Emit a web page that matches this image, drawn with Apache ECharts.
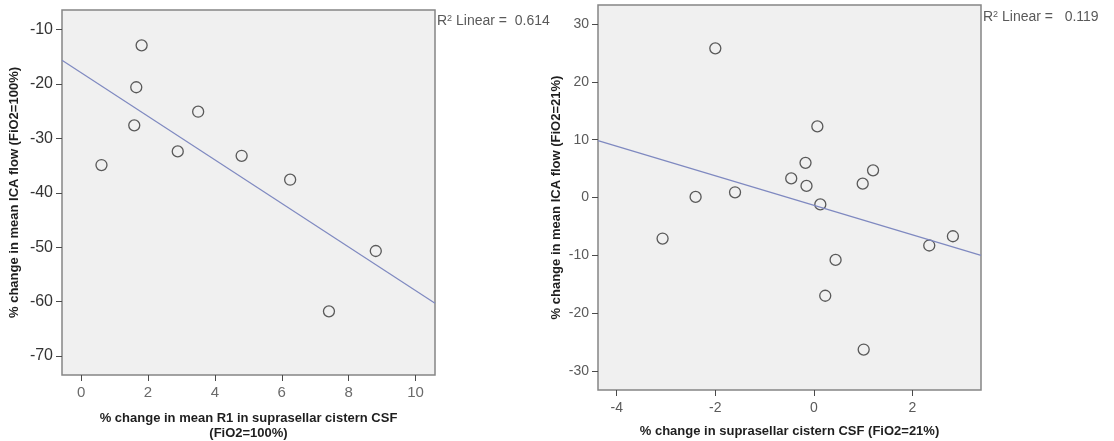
<!DOCTYPE html>
<html>
<head>
<meta charset="utf-8">
<script src="https://cdn.jsdelivr.net/npm/echarts@6/dist/echarts.min.js"></script>
<style>
  html, body { margin: 0; padding: 0; background: #ffffff; }
  #chart { width: 1114px; height: 441px; }
</style>
</head>
<body>
<div id="chart"></div>
<script>
// Panel A: breathing 100% oxygen
const hyperoxiaR1Change  = [0.61, 1.81, 1.65, 1.59, 3.50, 2.89, 4.80, 6.25, 8.81, 7.41];
const hyperoxiaIcaChange = [-34.9, -12.9, -20.6, -27.6, -25.1, -32.4, -33.2, -37.6, -50.7, -61.8];
const hyperoxiaXTicks = [0, 2, 4, 6, 8, 10];
const hyperoxiaYTicks = [-70, -60, -50, -40, -30, -20, -10];
const hyperoxiaRSquared = '0.614';

// Panel B: breathing room air (21% oxygen)
const normoxiaCsfChange = [-2.00, 0.07, -0.17, -0.46, -0.15, 1.20, 0.99, -2.40, -1.60, 0.13, -3.07, 2.34, 2.82, 0.44, 0.23, 1.01];
const normoxiaIcaChange = [25.8, 12.3, 6.0, 3.3, 2.0, 4.7, 2.4, 0.1, 0.9, -1.2, -7.1, -8.3, -6.7, -10.8, -17.0, -26.3];
const normoxiaXTicks = [-4, -2, 0, 2];
const normoxiaYTicks = [-30, -20, -10, 0, 10, 20, 30];
const normoxiaRSquared = '0.119';

const FONT = 'Arial, "Liberation Sans", sans-serif';

// Axis extents (slightly padded beyond the outer ticks)
const hyperX = { min: -0.57, max: 10.58 };
const hyperY = { min: -73.5, max: -6.4 };
const normX  = { min: -4.38, max: 3.39 };
const normY  = { min: -33.3, max: 33.3 };

// Ordinary least-squares fit, evaluated at both ends of the x-extent
function fitLine(xs, ys, x0, x1) {
  const n = xs.length;
  const mx = xs.reduce((a, b) => a + b, 0) / n;
  const my = ys.reduce((a, b) => a + b, 0) / n;
  let sxy = 0, sxx = 0;
  for (let i = 0; i < n; i++) {
    sxy += (xs[i] - mx) * (ys[i] - my);
    sxx += (xs[i] - mx) * (xs[i] - mx);
  }
  const b = sxy / sxx;
  const a = my - b * mx;
  return [[x0, a + b * x0], [x1, a + b * x1]];
}

function pairs(xs, ys) { return xs.map((x, i) => [x, ys[i]]); }

function valueAxis(gridIndex, ext, ticks, name, cfg) {
  return {
    type: 'value',
    gridIndex: gridIndex,
    min: ext.min,
    max: ext.max,
    name: name,
    nameLocation: 'middle',
    nameGap: cfg.nameGap,
    nameRotate: cfg.nameRotate,
    nameTextStyle: {
      fontFamily: FONT, fontSize: 13, fontWeight: 'bold', color: '#1e1e1e',
      lineHeight: 15, align: 'center'
    },
    axisLine: { show: false, onZero: false },
    splitLine: { show: false },
    axisTick: {
      show: true, length: 6, inside: false, customValues: ticks,
      lineStyle: { color: '#4a4a4a', width: 1 }
    },
    axisLabel: {
      show: true, customValues: ticks, margin: cfg.labelMargin,
      fontFamily: FONT, fontSize: cfg.labelSize, color: cfg.labelColor,
      fontWeight: cfg.labelWeight || 'normal'
    }
  };
}

const chart = echarts.init(document.getElementById('chart'), null, { renderer: 'canvas' });

const gridStyle = {
  show: true,
  backgroundColor: '#f0f0f0',
  borderColor: '#858585',
  borderWidth: 1.5,
  containLabel: false,
  outerBoundsMode: 'none'
};

const markerStyle = {
  color: 'rgba(0,0,0,0)',
  borderColor: '#333333',
  borderWidth: 1.3
};

const fitStyle = { color: '#7f89c0', width: 1.2 };

chart.setOption({
  animation: false,
  backgroundColor: '#ffffff',
  grid: [
    Object.assign({ left: 62, top: 10, width: 373, height: 365 }, gridStyle),
    Object.assign({ left: 598, top: 5, width: 383, height: 385 }, gridStyle)
  ],
  xAxis: [
    valueAxis(0, hyperX, hyperoxiaXTicks,
      '% change in mean R1 in suprasellar cistern CSF\n(FiO2=100%)',
      { nameGap: 36, labelMargin: 10, labelSize: 15, labelColor: '#6a6a6a' }),
    valueAxis(1, normX, normoxiaXTicks,
      '% change in suprasellar cistern CSF (FiO2=21%)',
      { nameGap: 34, labelMargin: 11, labelSize: 14, labelColor: '#5a5a5a' })
  ],
  yAxis: [
    valueAxis(0, hyperY, hyperoxiaYTicks,
      '% change in mean ICA flow (FiO2=100%)',
      { nameGap: 40, nameRotate: 90, labelMargin: 9, labelSize: 16, labelColor: '#333333' }),
    valueAxis(1, normY, normoxiaYTicks,
      '% change in mean ICA flow (FiO2=21%)',
      { nameGap: 34, nameRotate: 90, labelMargin: 9, labelSize: 14, labelColor: '#5a5a5a' })
  ],
  series: [
    {
      type: 'line', xAxisIndex: 0, yAxisIndex: 0, silent: true,
      symbol: 'none', lineStyle: fitStyle, clip: true,
      data: fitLine(hyperoxiaR1Change, hyperoxiaIcaChange, hyperX.min, hyperX.max)
    },
    {
      type: 'scatter', xAxisIndex: 0, yAxisIndex: 0, silent: true,
      symbol: 'circle', symbolSize: 11, itemStyle: markerStyle,
      data: pairs(hyperoxiaR1Change, hyperoxiaIcaChange)
    },
    {
      type: 'line', xAxisIndex: 1, yAxisIndex: 1, silent: true,
      symbol: 'none', lineStyle: fitStyle, clip: true,
      data: fitLine(normoxiaCsfChange, normoxiaIcaChange, normX.min, normX.max)
    },
    {
      type: 'scatter', xAxisIndex: 1, yAxisIndex: 1, silent: true,
      symbol: 'circle', symbolSize: 11, itemStyle: markerStyle,
      data: pairs(normoxiaCsfChange, normoxiaIcaChange)
    }
  ],
  graphic: [
    {
      type: 'text', left: 437, top: 14, silent: true,
      style: {
        text: '{r|R}{sup|2}{r| Linear =  ' + hyperoxiaRSquared + '}',
        rich: {
          r: { fontFamily: FONT, fontSize: 14, fill: '#595959' },
          sup: { fontFamily: FONT, fontSize: 9, fill: '#595959', verticalAlign: 'top', padding: [0, 0, 6, 0] }
        }
      }
    },
    {
      type: 'text', left: 983, top: 10, silent: true,
      style: {
        text: '{r|R}{sup|2}{r| Linear =   ' + normoxiaRSquared + '}',
        rich: {
          r: { fontFamily: FONT, fontSize: 14, fill: '#595959' },
          sup: { fontFamily: FONT, fontSize: 9, fill: '#595959', verticalAlign: 'top', padding: [0, 0, 6, 0] }
        }
      }
    }
  ]
});
</script>
</body>
</html>
